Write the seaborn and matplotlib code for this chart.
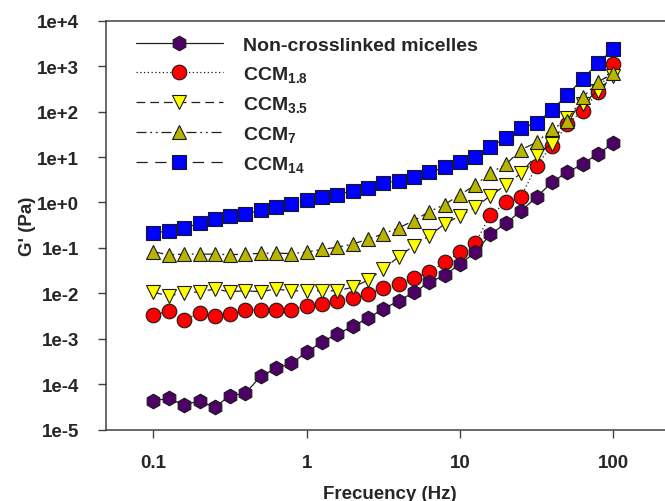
import numpy as np
import pandas as pd
import matplotlib
matplotlib.use("Agg")
import matplotlib.pyplot as plt
import matplotlib.ticker as mticker
import seaborn as sns

freq = [0.1, 0.126, 0.158, 0.2, 0.251, 0.316, 0.398, 0.501, 0.631, 0.794,
        1.0, 1.26, 1.58, 2.0, 2.51, 3.16, 3.98, 5.01, 6.31, 7.94,
        10.0, 12.6, 15.8, 20.0, 25.1, 31.6, 39.8, 50.1, 63.1, 79.4, 100.0]

non_crosslinked = [4.3e-5, 4.9e-5, 3.5e-5, 4.3e-5, 3.1e-5, 5.6e-5, 6.3e-5, 1.49e-4, 2.24e-4, 2.9e-4,
                   5.0e-4, 8.6e-4, 1.27e-3, 1.88e-3, 2.87e-3, 4.5e-3, 6.9e-3, 1.05e-2, 1.75e-2, 2.5e-2,
                   4.4e-2, 8.0e-2, 0.20, 0.35, 0.66, 1.3, 2.8, 4.6, 7.0, 11.7, 20.0]
ccm_1_8 = [0.0034, 0.0040, 0.0026, 0.0037, 0.0032, 0.0035, 0.0043, 0.0044, 0.0043, 0.0044,
           0.0053, 0.0057, 0.0069, 0.0079, 0.0097, 0.0128, 0.0158, 0.0214, 0.0295, 0.048,
           0.080, 0.13, 0.52, 1.0, 1.35, 6.5, 17.7, 52.0, 105.0, 265.0, 1100.0]
ccm_3_5 = [0.0105, 0.0089, 0.0100, 0.0109, 0.0124, 0.0109, 0.0114, 0.0109, 0.0124, 0.0114,
           0.0114, 0.0114, 0.0114, 0.0136, 0.0195, 0.034, 0.064, 0.112, 0.186, 0.336,
           0.51, 0.78, 1.41, 2.42, 4.45, 11.1, 19.4, 71.0, 147.0, 288.0, 600.0]
ccm_7 = [0.083, 0.070, 0.073, 0.073, 0.073, 0.071, 0.073, 0.076, 0.077, 0.075,
         0.081, 0.093, 0.103, 0.122, 0.155, 0.205, 0.275, 0.40, 0.63, 0.90,
         1.48, 2.42, 4.45, 7.0, 14.5, 21.0, 41.0, 63.0, 206.0, 440.0, 720.0]
ccm_14 = [0.21, 0.24, 0.27, 0.35, 0.43, 0.50, 0.56, 0.68, 0.78, 0.94,
          1.15, 1.30, 1.48, 1.82, 2.08, 2.64, 3.0, 3.57, 4.6, 5.9,
          7.6, 10.2, 17.0, 26.0, 43.5, 56.0, 108.0, 232.0, 521.0, 1150.0, 2400.0]

labels = ["Non-crosslinked micelles", r"CCM$_{1.8}$", r"CCM$_{3.5}$", r"CCM$_{7}$", r"CCM$_{14}$"]
y_ticks = [1e-5, 1e-4, 1e-3, 1e-2, 1e-1, 1e0, 1e1, 1e2, 1e3, 1e4]
x_ticks = [0.1, 1, 10, 100]
x_tick_labels = ["0.1", "1", "10", "100"]

sns.set_style("ticks")
plt.rcParams["font.family"] = ["Liberation Sans", "DejaVu Sans"]
plt.rcParams["font.weight"] = "bold"
plt.rcParams["mathtext.fontset"] = "custom"
plt.rcParams["mathtext.rm"] = "Liberation Sans:bold"
plt.rcParams["mathtext.it"] = "Liberation Sans:bold"
plt.rcParams["mathtext.bf"] = "Liberation Sans:bold"
plt.rcParams["mathtext.default"] = "bf"

W, H = 665, 502
fig = plt.figure(figsize=(W / 100, H / 100), dpi=100)
ax_left, ax_right, ax_top, ax_bottom = 106, 674.5, 21.7, 430.7
ax = fig.add_axes([ax_left / W, 1 - ax_bottom / H, (ax_right - ax_left) / W, (ax_bottom - ax_top) / H])

series = [
    (ccm_14, labels[4], "s", "#0000FF", (0, (9, 6))),
    (ccm_1_8, labels[1], "o", "#FF0000", (0, (1, 2))),
    (ccm_3_5, labels[2], "v", "#FFFF00", (0, (7, 4))),
    (ccm_7, labels[3], "^", "#B8B400", (0, (8, 3, 1.5, 3, 1.5, 3))),
    (non_crosslinked, labels[0], "h", "#4D0066", "-"),
]

handles = {}
for vals, lab, mk, col, ls in series:
    df = pd.DataFrame({"f": freq, "g": vals})
    sns.lineplot(data=df, x="f", y="g", ax=ax, color="#202020", linestyle=ls, linewidth=0.9,
                 marker=mk, markersize=10.5, markerfacecolor=col, markeredgecolor="#1a1a1a",
                 markeredgewidth=0.8, label=lab, legend=False)
    handles[lab] = ax.lines[-1]

ax.set_xscale("log")
ax.set_yscale("log")
ax.set_xlim(10 ** -1.309, 10 ** 2.4)
ax.set_ylim(1e-5, 1e4)

ax.set_xticks(x_ticks)
ax.set_xticklabels(x_tick_labels)
ax.xaxis.set_minor_locator(mticker.NullLocator())
ax.set_yticks(y_ticks)
ax.set_yticklabels([f"1e{int(round(np.log10(v))):+d}" for v in y_ticks])
ax.yaxis.set_minor_locator(mticker.NullLocator())

ax.tick_params(axis="both", direction="out", length=5.5, width=1.0, color="#404040",
               labelsize=13.5)
ax.tick_params(axis="x", pad=12)
ax.tick_params(axis="y", pad=14)
for lbl in ax.get_xticklabels() + ax.get_yticklabels():
    lbl.set_fontweight("bold")
for sp in ax.spines.values():
    sp.set_color("#404040")
    sp.set_linewidth(1.1)

ax.set_xlabel("Frecuency (Hz)", fontsize=13.5, fontweight="bold", labelpad=10)
ax.set_ylabel("G' (Pa)", fontsize=13.5, fontweight="bold", labelpad=1)

order = [labels[0], labels[1], labels[2], labels[3], labels[4]]
leg = ax.legend([handles[l] for l in order], order, loc="upper left",
                bbox_to_anchor=(0.052, 0.962), frameon=False, fontsize=14,
                handlelength=4.5, handletextpad=1.0, labelspacing=0.52,
                borderpad=0, borderaxespad=0, numpoints=1)
for t in leg.get_texts():
    t.set_fontweight("bold")

fig.savefig("out.png", dpi=100)
